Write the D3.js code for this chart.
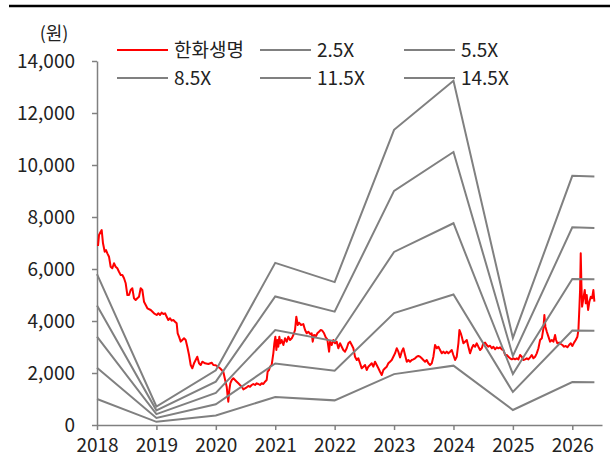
<!DOCTYPE html>
<html>
<head>
<meta charset="utf-8">
<script src="https://cdn.jsdelivr.net/npm/d3@7"></script>
<style>
	body { margin: 0; background: #fff; }
	svg text { font-family: "Noto Sans CJK KR", "Noto Sans", sans-serif; fill: #222; }
</style>
</head>
<body>
<svg id="myGraph" width="610" height="470"></svg>
<script>
// 주가 (연도 소수 표기, 원)
var priceYear = [2018.017, 2018.034, 2018.062, 2018.079, 2018.101, 2018.13, 2018.152, 2018.174, 2018.202, 2018.23,
	2018.258, 2018.286, 2018.314, 2018.342, 2018.37, 2018.399, 2018.427, 2018.455, 2018.483, 2018.511,
	2018.539, 2018.567, 2018.595, 2018.623, 2018.651, 2018.679, 2018.707, 2018.735, 2018.763, 2018.791,
	2018.82, 2018.848, 2018.904, 2018.96, 2019.005, 2019.033, 2019.061, 2019.089, 2019.117, 2019.145,
	2019.173, 2019.2, 2019.229, 2019.257, 2019.285, 2019.313, 2019.341, 2019.358, 2019.38, 2019.409,
	2019.436, 2019.465, 2019.493, 2019.52, 2019.549, 2019.577, 2019.604, 2019.633, 2019.661, 2019.688,
	2019.717, 2019.745, 2019.773, 2019.818, 2019.874, 2019.93, 2019.958, 2019.998, 2020.042, 2020.071,
	2020.099, 2020.126, 2020.155, 2020.183, 2020.2, 2020.21, 2020.227, 2020.244, 2020.268, 2020.295,
	2020.323, 2020.352, 2020.379, 2020.407, 2020.436, 2020.463, 2020.492, 2020.52, 2020.547, 2020.576,
	2020.604, 2020.631, 2020.66, 2020.688, 2020.715, 2020.744, 2020.772, 2020.8, 2020.828, 2020.856,
	2020.872, 2020.895, 2020.912, 2020.94, 2020.968, 2020.985, 2021.002, 2021.019, 2021.035, 2021.052,
	2021.069, 2021.086, 2021.108, 2021.137, 2021.165, 2021.194, 2021.22, 2021.249, 2021.278, 2021.305,
	2021.333, 2021.355, 2021.379, 2021.4, 2021.434, 2021.473, 2021.502, 2021.53, 2021.557, 2021.586,
	2021.614, 2021.631, 2021.653, 2021.687, 2021.709, 2021.737, 2021.766, 2021.793, 2021.822, 2021.85,
	2021.877, 2021.906, 2021.923, 2021.951, 2021.978, 2022.007, 2022.035, 2022.062, 2022.091, 2022.119,
	2022.146, 2022.175, 2022.203, 2022.231, 2022.259, 2022.288, 2022.315, 2022.343, 2022.372, 2022.399,
	2022.428, 2022.456, 2022.483, 2022.512, 2022.54, 2022.567, 2022.596, 2022.624, 2022.651, 2022.68,
	2022.708, 2022.736, 2022.764, 2022.793, 2022.82, 2022.848, 2022.877, 2022.904, 2022.932, 2022.961,
	2022.988, 2023.017, 2023.045, 2023.072, 2023.101, 2023.129, 2023.157, 2023.185, 2023.214, 2023.241,
	2023.269, 2023.298, 2023.325, 2023.354, 2023.382, 2023.409, 2023.438, 2023.466, 2023.493, 2023.522,
	2023.55, 2023.578, 2023.606, 2023.635, 2023.662, 2023.69, 2023.719, 2023.746, 2023.774, 2023.803,
	2023.83, 2023.859, 2023.887, 2023.914, 2023.943, 2023.971, 2023.998, 2024.027, 2024.055, 2024.083,
	2024.1, 2024.123, 2024.14, 2024.167, 2024.195, 2024.224, 2024.251, 2024.279, 2024.308, 2024.335,
	2024.364, 2024.392, 2024.419, 2024.448, 2024.476, 2024.503, 2024.532, 2024.56, 2024.587, 2024.616,
	2024.645, 2024.672, 2024.7, 2024.729, 2024.756, 2024.785, 2024.813, 2024.84, 2024.869, 2024.897,
	2024.924, 2024.953, 2024.981, 2025.008, 2025.037, 2025.066, 2025.093, 2025.121, 2025.15, 2025.177,
	2025.205, 2025.234, 2025.261, 2025.29, 2025.318, 2025.345, 2025.374, 2025.402, 2025.43, 2025.458,
	2025.487, 2025.514, 2025.53, 2025.547, 2025.571, 2025.598, 2025.626, 2025.655, 2025.682, 2025.71,
	2025.727, 2025.749, 2025.778, 2025.806, 2025.833, 2025.862, 2025.89, 2025.917, 2025.946, 2025.974,
	2026.001, 2026.03, 2026.058, 2026.086, 2026.103, 2026.12, 2026.131, 2026.142, 2026.153, 2026.165,
	2026.187, 2026.21, 2026.227, 2026.243, 2026.266, 2026.288, 2026.311, 2026.333, 2026.355, 2026.372];

var priceValue = [6884, 7308, 7435, 7500, 6988, 6666, 6730, 6603, 6473, 6088,
	6027, 6219, 6088, 6027, 5896, 5769, 5769, 5642, 5450, 5000,
	5000, 5192, 5257, 4873, 4808, 4873, 4935, 5257, 5192, 4743,
	4615, 4488, 4423, 4296, 4231, 4296, 4231, 4320, 4269, 4296,
	4166, 4038, 4104, 4013, 4038, 3974, 3911, 3527, 3397, 3205,
	3269, 3334, 3269, 3012, 2692, 2308, 2180, 2373, 2500, 2627,
	2373, 2308, 2435, 2373, 2346, 2396, 2308, 2300, 2230, 2180,
	2115, 2050, 1750, 1473, 1088, 896, 1346, 1604, 1731, 1796,
	1731, 1665, 1604, 1538, 1473, 1372, 1411, 1450, 1500, 1473,
	1538, 1577, 1538, 1604, 1577, 1538, 1604, 1577, 1665, 1731,
	2050, 2115, 2243, 2308, 2757, 3142, 3397, 2885, 3269, 3012,
	3397, 3142, 3269, 3077, 3334, 3205, 3397, 3269, 3334, 3461,
	3654, 4166, 3846, 3935, 3846, 3880, 3654, 3527, 3588, 3500,
	3527, 3205, 3461, 3423, 3527, 3588, 3654, 3627, 3527, 3373,
	3296, 2820, 3205, 3077, 3269, 3142, 3205, 2950, 3142, 3012,
	2885, 2820, 2950, 3142, 3205, 3077, 2950, 2627, 2500, 2565,
	2373, 2180, 2243, 2308, 2115, 2243, 2308, 2373, 2243, 2435,
	2308, 2180, 2050, 1923, 2115, 2180, 2243, 2373, 2435, 2500,
	2627, 2757, 2950, 2820, 2600, 2820, 2950, 2692, 2435, 2500,
	2435, 2500, 2525, 2565, 2627, 2654, 2627, 2565, 2500, 2435,
	2500, 2373, 2308, 2373, 2627, 3077, 2950, 3012, 2885, 2757,
	2820, 2757, 2820, 2757, 2820, 2885, 2692, 2500, 2627, 3142,
	3654, 3527, 3397, 3142, 3205, 3269, 3012, 2757, 2950, 3077,
	3012, 3142, 3012, 2885, 2950, 3142, 3168, 3077, 3012, 3050,
	2950, 3012, 2912, 2988, 2950, 2988, 2912, 2885, 2692, 2692,
	2627, 2565, 2525, 2565, 2525, 2565, 2525, 2692, 2627, 2500,
	2525, 2565, 2525, 2603, 2692, 2565, 2627, 2757, 2950, 3269,
	3334, 3719, 4231, 3781, 3588, 3397, 3205, 3269, 3205, 3461,
	3269, 3142, 3168, 3115, 3077, 3012, 3038, 2988, 3077, 3142,
	3038, 3168, 3269, 3397, 3654, 4551, 5192, 6603, 5450, 4551,
	4873, 5192, 4680, 5000, 4423, 4743, 4935, 4873, 5192, 4743];

// PBR 밴드 (연도별 BPS, 원)
var bandYear = [2018, 2019, 2020, 2021, 2022, 2023, 2024, 2025, 2026, 2026.372];
var bandBps = [400, 49, 145, 430, 379, 783, 913, 231, 661, 659];
var bandMultiple = [2.5, 5.5, 8.5, 11.5, 14.5];

var xTicks = [2018, 2019, 2020, 2021, 2022, 2023, 2024, 2025, 2026];
var yTicks = [0, 2000, 4000, 6000, 8000, 10000, 12000, 14000];
var legendNames = ["한화생명", "2.5X", "5.5X", "8.5X", "11.5X", "14.5X"];

window.addEventListener("load", function(){
	var svg = d3.select("#myGraph");
	var gray = "#808080";

	var x = d3.scaleLinear().domain([2018, 2026.5]).range([97, 602]);
	var y = d3.scaleLinear().domain([0, 14000]).range([425, 61]);

	// 상단 굵은 선
	svg.append("line")
		.attr("x1", 9).attr("x2", 610)
		.attr("y1", 6).attr("y2", 6)
		.attr("stroke", "#000")
		.attr("stroke-width", 2.5);

	// 축
	var xAxis = svg.append("g")
		.attr("transform", "translate(0,425)")
		.call(d3.axisBottom(x).tickValues(xTicks).tickFormat(d3.format("d")).tickSize(5).tickSizeOuter(0).tickPadding(9));
	var yAxis = svg.append("g")
		.attr("transform", "translate(97,0)")
		.call(d3.axisLeft(y).tickValues(yTicks).tickFormat(d3.format(",")).tickSize(5).tickSizeOuter(0).tickPadding(17));

	[xAxis, yAxis].forEach(function(g){
		g.selectAll("path, line").attr("stroke", gray).attr("stroke-width", 1.5);
		g.selectAll("text").style("font-size", "19px").attr("fill", "#222");
	});

	svg.append("text")
		.attr("x", 54).attr("y", 40)
		.attr("text-anchor", "middle")
		.style("font-size", "18px")
		.text("(원)");

	// 주가 선
	var priceLine = d3.line()
		.x(function(d, i){ return x(priceYear[i]); })
		.y(function(d){ return y(d); });

	svg.append("path")
		.datum(priceValue)
		.attr("fill", "none")
		.attr("stroke", "#ff0000")
		.attr("stroke-width", 2)
		.attr("stroke-linejoin", "round")
		.attr("d", priceLine);

	// PBR 밴드 선
	var bandLine = d3.line()
		.x(function(d, i){ return x(bandYear[i]); })
		.y(function(d){ return y(d); });

	svg.selectAll(".band")
		.data(bandMultiple)
		.enter()
		.append("path")
		.attr("class", "band")
		.attr("fill", "none")
		.attr("stroke", gray)
		.attr("stroke-width", 2)
		.attr("d", function(m){
			return bandLine(bandBps.map(function(b){ return b * m; }));
		});

	// 범례
	var colX = [117, 260, 404];
	var rowY = [50, 78];
	var legend = svg.selectAll(".legend")
		.data(legendNames)
		.enter()
		.append("g")
		.attr("class", "legend")
		.attr("transform", function(d, i){
			return "translate(" + colX[i % 3] + "," + rowY[Math.floor(i / 3)] + ")";
		});

	legend.append("line")
		.attr("x1", 0).attr("x2", 51)
		.attr("y1", 0).attr("y2", 0)
		.attr("stroke", function(d, i){ return i == 0 ? "#ff0000" : gray; })
		.attr("stroke-width", 2);

	legend.append("text")
		.attr("x", 57).attr("y", 7)
		.style("font-size", "19px")
		.text(function(d){ return d; });
}, false);
</script>
</body>
</html>
